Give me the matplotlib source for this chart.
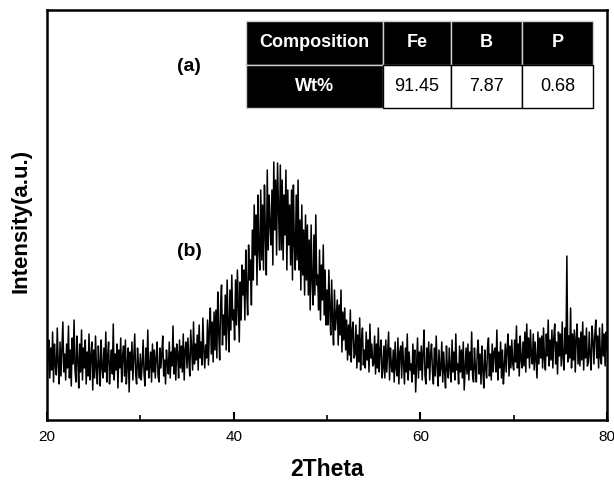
import numpy as np
import matplotlib
matplotlib.use("Agg")
import matplotlib.pyplot as plt
from matplotlib.ticker import MultipleLocator

plt.rcParams["font.family"] = ["Liberation Sans", "DejaVu Sans"]

# XRD scan of the Fe-B-P ribbon, 0.1 deg steps from 20 to 80 deg (one row = 1 deg)
scan_start, scan_step = 20.0, 0.1
intensity = [
    35, 68, 80, 42, 72, 50, 88, 38, 76, 55,
    45, 92, 58, 36, 78, 44, 70, 98, 48, 66,
    40, 76, 52, 94, 42, 70, 34, 82, 56, 100,
    50, 38, 84, 60, 32, 76, 48, 90, 40, 72,
    52, 80, 36, 68, 44, 86, 40, 64, 78, 30,
    70, 42, 84, 50, 36, 74, 56, 34, 80, 52,
    42, 72, 48, 88, 38, 64, 78, 36, 56, 70,
    46, 96, 40, 66, 50, 76, 32, 70, 52, 82,
    38, 64, 74, 44, 80, 36, 56, 72, 28, 68,
    50, 78, 40, 64, 86, 46, 36, 72, 54, 42,
    66, 40, 56, 80, 46, 34, 72, 50, 90, 42,   # 30
    54, 68, 38, 76, 48, 70, 42, 62, 78, 44,
    38, 72, 52, 66, 84, 44, 60, 36, 70, 56,
    46, 78, 42, 68, 54, 94, 46, 72, 40, 76,
    66, 42, 80, 52, 74, 48, 86, 40, 70, 78,
    52, 82, 60, 44, 90, 70, 50, 98, 56, 76,
    60, 85, 50, 95, 62, 78, 55, 102, 70, 52,
    75, 62, 100, 55, 92, 112, 66, 98, 58, 108,
    70, 110, 62, 128, 88, 60, 115, 135, 75, 105,
    85, 125, 70, 140, 95, 68, 130, 90, 145, 100,
    110, 80, 140, 95, 150, 115, 78, 138, 100, 155,   # 40
    125, 150, 100, 170, 130, 105, 175, 140, 160, 115,
    190, 140, 215, 165, 205, 135, 225, 170, 150, 230,
    160, 215, 150, 235, 185, 145, 250, 170, 225, 195,
    175, 230, 155, 258, 190, 240, 165, 257, 215, 170,
    255, 170, 240, 160, 225, 185, 250, 150, 230, 175,
    215, 155, 230, 140, 235, 175, 150, 225, 160, 240,
    150, 200, 130, 215, 145, 190, 125, 205, 140, 195,
    125, 180, 110, 195, 140, 115, 185, 125, 205, 135,
    145, 110, 170, 100, 155, 120, 175, 105, 150, 95,
    130, 95, 150, 110, 85, 140, 100, 75, 130, 90,   # 50
    105, 120, 75, 115, 85, 130, 68, 108, 80, 112,
    70, 100, 60, 95, 65, 110, 58, 90, 98, 62,
    66, 95, 52, 85, 58, 102, 50, 80, 92, 55,
    70, 52, 88, 60, 80, 48, 96, 62, 76, 54,
    56, 84, 46, 76, 52, 92, 48, 70, 80, 42,
    52, 74, 42, 80, 48, 68, 88, 40, 72, 54,
    48, 70, 38, 78, 52, 44, 82, 36, 68, 74,
    42, 78, 56, 36, 72, 48, 86, 40, 68, 50,
    56, 38, 76, 46, 70, 28, 54, 82, 42, 68,
    50, 74, 40, 68, 90, 44, 36, 72, 52, 78,   # 60
    40, 66, 76, 48, 36, 72, 44, 84, 54, 34,
    70, 44, 52, 78, 38, 68, 48, 32, 74, 50,
    42, 72, 52, 38, 80, 48, 68, 40, 86, 50,
    56, 36, 74, 48, 70, 42, 78, 30, 52, 72,
    46, 76, 40, 68, 50, 88, 44, 38, 72, 52,
    38, 68, 80, 46, 66, 36, 74, 50, 32, 70,
    52, 42, 72, 82, 44, 66, 40, 76, 48, 68,
    72, 48, 90, 40, 68, 52, 78, 42, 70, 36,
    54, 76, 48, 72, 86, 44, 74, 52, 80, 56,
    50, 80, 58, 94, 52, 76, 44, 84, 60, 52,   # 70
    78, 54, 88, 48, 96, 62, 82, 52, 90, 64,
    56, 86, 50, 78, 60, 42, 88, 56, 82, 62,
    84, 52, 92, 60, 50, 86, 64, 100, 54, 80,
    60, 90, 52, 82, 96, 56, 78, 46, 88, 64,
    86, 54, 98, 62, 50, 92, 66, 164, 58, 84,
    62, 112, 52, 86, 60, 90, 48, 82, 96, 56,
    82, 54, 88, 60, 98, 50, 84, 62, 92, 54,
    58, 88, 64, 50, 94, 80, 56, 86, 100, 62,
    84, 52, 92, 62, 56, 96, 64, 86, 54, 88,
    70,
]
two_theta = scan_start + scan_step * np.arange(len(intensity))

# composition inset
table_header = ["Composition", "Fe", "B", "P"]
table_row = ["Wt%", "91.45", "7.87", "0.68"]

fig = plt.figure(figsize=(6.14, 4.8), dpi=100)
ax = fig.add_axes([47 / 614, 60 / 480, 560 / 614, 410 / 480])
ax.plot(two_theta, intensity, color="black", lw=1.1)

ax.set_xlim(20, 80)
ax.set_ylim(0, 410)
ax.set_yticks([])
ax.xaxis.set_major_locator(MultipleLocator(20))
ax.xaxis.set_minor_locator(MultipleLocator(10))
ax.tick_params(axis="x", which="major", direction="in", length=6, width=1.5,
               labelsize=11, pad=7)
ax.tick_params(axis="x", which="minor", direction="in", length=3.5, width=1.2)
for sp in ax.spines.values():
    sp.set_linewidth(1.8)

ax.set_xlabel("2Theta", fontsize=16.5, fontweight="bold")
ax.xaxis.set_label_coords(0.5, -0.093)
ax.set_ylabel("Intensity(a.u.)", fontsize=16, fontweight="bold")
ax.yaxis.set_label_coords(-0.027, 0.485)

ax.text(0.254, 0.861, "(a)", transform=ax.transAxes, ha="center", va="center",
        fontsize=14, fontweight="bold")
ax.text(0.255, 0.41, "(b)", transform=ax.transAxes, ha="center", va="center",
        fontsize=14, fontweight="bold")

widths = np.array([137, 68, 71, 71], dtype=float)
tbl = ax.table(cellText=[table_header, table_row], colWidths=list(widths / widths.sum() * 0.62),
               bbox=[0.355, 0.761, 0.62, 0.212], cellLoc="center")
tbl.auto_set_font_size(False)
for (r, c), cell in tbl.get_celld().items():
    dark = r == 0 or c == 0
    cell.set_facecolor("black" if dark else "white")
    cell.set_edgecolor("#cfcfcf" if dark else "black")
    cell.set_linewidth(1.0)
    txt = cell.get_text()
    txt.set_color("white" if dark else "black")
    txt.set_fontweight("bold" if dark else "normal")
    txt.set_fontsize(13)

fig.savefig("out.png", dpi=100)
